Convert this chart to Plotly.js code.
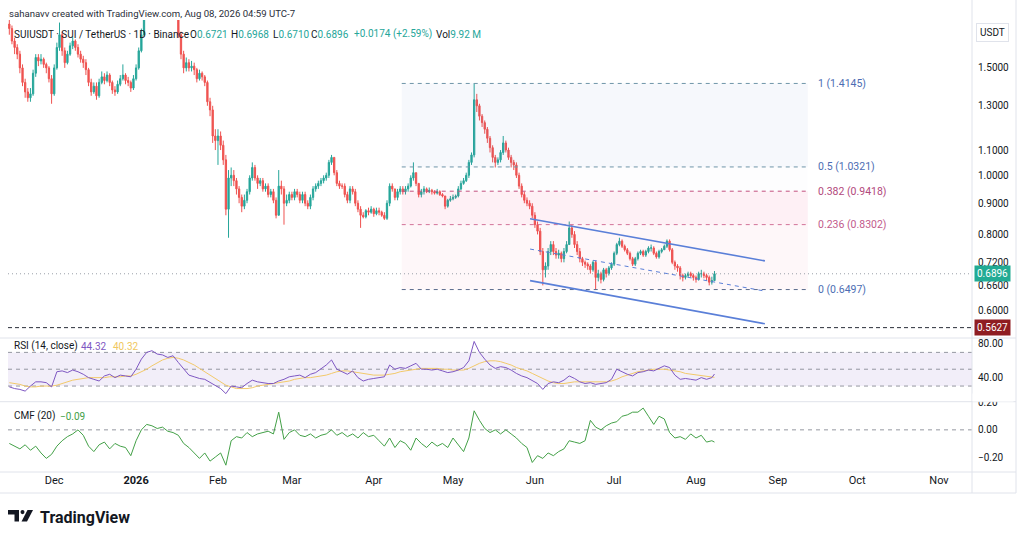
<!DOCTYPE html>
<html><head><meta charset="utf-8">
<script src="https://cdn.plot.ly/plotly-3.0.1.min.js"></script>
<style>html,body{margin:0;padding:0;background:#fff;}#chart{width:1024px;height:539px;}</style>
</head><body><div id="chart"></div>
<script>
// ---------- data ----------
const startDate = Date.UTC(2025, 10, 14);
const firstOpen = 1.77;
const closes = [
1.74,1.66,1.62,1.58,1.50,1.42,1.37,1.34,1.36,1.47,
1.56,1.54,1.55,1.52,1.50,1.44,1.36,1.50,1.62,1.70,
1.60,1.53,1.58,1.63,1.66,1.62,1.58,1.55,1.53,1.49,
1.42,1.37,1.40,1.35,1.42,1.45,1.43,1.46,1.42,1.38,
1.37,1.41,1.44,1.46,1.43,1.42,1.39,1.44,1.50,1.60,
1.70,1.82,1.90,1.88,1.92,1.89,1.93,1.90,1.94,1.91,
1.90,1.93,1.88,1.86,1.70,1.58,1.50,1.53,1.50,1.51,
1.49,1.44,1.47,1.45,1.42,1.32,1.28,1.16,1.14,1.16,
1.12,1.06,0.88,0.99,1.00,0.98,0.95,0.92,0.89,0.91,
0.94,0.99,1.03,0.99,0.97,0.98,0.95,0.96,0.93,0.94,
0.91,0.86,0.96,0.95,0.90,0.91,0.93,0.92,0.94,0.93,
0.91,0.93,0.90,0.89,0.92,0.95,0.96,0.97,0.98,0.99,
1.00,1.05,1.07,1.01,0.97,0.96,0.96,0.93,0.91,0.95,
0.94,0.90,0.88,0.86,0.855,0.875,0.87,0.88,0.865,0.875,
0.87,0.86,0.85,0.90,0.96,0.95,0.92,0.94,0.95,0.94,
0.95,0.96,0.99,1.01,0.97,0.93,0.94,0.95,0.94,0.945,
0.94,0.935,0.94,0.93,0.925,0.89,0.91,0.915,0.92,0.925,
0.95,0.97,0.98,1.00,1.05,1.08,1.33,1.30,1.25,1.22,
1.19,1.15,1.11,1.07,1.05,1.06,1.09,1.13,1.10,1.07,
1.05,1.04,1.00,0.96,0.93,0.91,0.90,0.89,0.86,0.83,
0.81,0.75,0.70,0.71,0.75,0.77,0.75,0.74,0.745,0.73,
0.75,0.77,0.82,0.80,0.77,0.75,0.73,0.72,0.715,0.71,
0.70,0.72,0.68,0.69,0.675,0.70,0.69,0.705,0.715,0.745,
0.77,0.78,0.765,0.755,0.745,0.73,0.715,0.73,0.745,0.75,
0.74,0.75,0.76,0.76,0.745,0.735,0.75,0.755,0.765,0.78,
0.755,0.72,0.71,0.705,0.685,0.68,0.685,0.69,0.685,0.68,
0.675,0.69,0.69,0.685,0.68,0.668,0.6721,0.6896
];
const highs = [
1.80,1.76,1.68,1.64,1.60,1.52,1.44,1.39,1.39,1.49,
1.58,1.58,1.58,1.56,1.53,1.51,1.46,1.52,1.65,1.78,
1.72,1.62,1.60,1.65,1.69,1.67,1.64,1.60,1.57,1.55,
1.50,1.44,1.42,1.42,1.44,1.48,1.47,1.48,1.47,1.43,
1.40,1.43,1.46,1.52,1.47,1.45,1.43,1.46,1.52,1.62,
1.74,1.85,1.94,1.93,1.95,1.94,1.96,1.95,1.97,1.96,
1.94,1.96,1.95,1.90,1.88,1.72,1.60,1.56,1.55,1.54,
1.53,1.50,1.49,1.48,1.46,1.43,1.34,1.30,1.19,1.19,
1.18,1.14,1.08,1.02,1.03,1.02,0.99,0.96,0.93,0.93,
0.95,1.00,1.05,1.04,1.00,0.99,0.99,0.97,0.97,0.95,
0.95,0.92,1.02,0.98,0.96,0.93,0.94,0.94,0.95,0.95,
0.94,0.94,0.94,0.91,0.93,0.96,0.97,0.98,0.99,1.00,
1.01,1.06,1.08,1.07,1.02,0.98,0.97,0.97,0.94,0.96,
0.96,0.95,0.91,0.89,0.87,0.88,0.885,0.89,0.885,0.885,
0.885,0.875,0.87,0.91,0.97,0.97,0.95,0.95,0.96,0.96,
0.96,0.97,1.00,1.05,1.01,0.97,0.95,0.96,0.955,0.955,
0.95,0.945,0.95,0.945,0.935,0.925,0.915,0.925,0.93,0.93,
0.96,0.98,0.99,1.01,1.06,1.09,1.4145,1.36,1.31,1.26,
1.23,1.20,1.16,1.12,1.08,1.07,1.10,1.16,1.14,1.11,
1.08,1.06,1.05,1.01,0.97,0.94,0.92,0.91,0.90,0.87,
0.84,0.82,0.76,0.72,0.76,0.78,0.78,0.76,0.755,0.75,
0.76,0.78,0.84,0.83,0.81,0.78,0.76,0.735,0.725,0.72,
0.715,0.725,0.725,0.70,0.695,0.705,0.705,0.71,0.72,0.75,
0.775,0.79,0.785,0.77,0.76,0.75,0.735,0.735,0.75,0.755,
0.755,0.755,0.765,0.77,0.765,0.75,0.755,0.76,0.77,0.785,
0.785,0.76,0.725,0.715,0.71,0.69,0.69,0.695,0.695,0.69,
0.685,0.695,0.70,0.695,0.69,0.685,0.682,0.6968
];
const lows = [
1.70,1.64,1.58,1.55,1.47,1.40,1.34,1.32,1.32,1.35,
1.45,1.51,1.52,1.50,1.47,1.42,1.31,1.35,1.49,1.60,
1.57,1.50,1.52,1.57,1.61,1.60,1.56,1.53,1.50,1.46,
1.40,1.35,1.36,1.33,1.34,1.41,1.41,1.42,1.40,1.36,
1.35,1.36,1.40,1.43,1.41,1.40,1.37,1.38,1.43,1.49,
1.59,1.69,1.80,1.84,1.86,1.86,1.87,1.88,1.88,1.88,
1.87,1.88,1.86,1.83,1.68,1.55,1.47,1.48,1.48,1.48,
1.46,1.42,1.43,1.43,1.40,1.30,1.25,1.13,1.10,1.04,
1.10,1.04,0.86,0.79,0.96,0.96,0.93,0.90,0.87,0.88,
0.90,0.93,0.98,0.98,0.95,0.96,0.94,0.94,0.92,0.92,
0.90,0.85,0.86,0.93,0.83,0.89,0.90,0.91,0.91,0.92,
0.90,0.90,0.89,0.88,0.88,0.91,0.94,0.95,0.96,0.97,
0.98,0.99,1.04,1.00,0.96,0.95,0.95,0.92,0.90,0.90,
0.93,0.89,0.87,0.82,0.85,0.85,0.86,0.865,0.855,0.86,
0.86,0.855,0.845,0.845,0.89,0.94,0.91,0.91,0.93,0.93,
0.93,0.94,0.955,0.98,0.96,0.92,0.92,0.93,0.935,0.935,
0.93,0.93,0.93,0.925,0.92,0.88,0.885,0.905,0.91,0.915,
0.92,0.945,0.965,0.975,0.99,1.04,1.07,1.27,1.23,1.20,
1.17,1.13,1.09,1.05,1.03,1.04,1.05,1.08,1.09,1.06,
1.03,1.02,0.99,0.95,0.92,0.90,0.89,0.88,0.85,0.82,
0.80,0.74,0.66,0.68,0.70,0.74,0.74,0.73,0.73,0.72,
0.72,0.745,0.77,0.79,0.76,0.74,0.72,0.71,0.705,0.70,
0.69,0.695,0.65,0.67,0.665,0.67,0.68,0.685,0.70,0.71,
0.74,0.765,0.76,0.75,0.74,0.725,0.71,0.71,0.725,0.74,
0.735,0.735,0.745,0.75,0.74,0.73,0.73,0.745,0.755,0.76,
0.75,0.715,0.70,0.695,0.675,0.67,0.675,0.68,0.68,0.672,
0.667,0.672,0.68,0.678,0.672,0.66,0.662,0.6710
];
// indicators, sampled every second day plus the last bar
const rsi = [
29,27,26,24,30,35,35,34,29,47,
48,46,49,47,44,40,38,36,42,44,
40,43,42,41,50,62,70,72,68,67,
64,66,58,50,43,41,39,38,34,30,
27,21,30,29,28,33,37,35,34,33,
33,36,38,41,42,43,40,44,46,50,
55,61,50,47,44,48,40,36,38,39,
40,41,55,50,52,51,54,57,50,50,
49,50,48,46,47,49,52,60,83,70,
62,55,51,53,52,49,45,42,40,37,
33,26,33,35,34,37,42,39,35,33,
34,32,33,34,38,50,47,44,42,46,
47,49,48,51,54,52,43,38,39,38,
37,40,38,40,44.32
];
const rsiMa = [
34,33,32,30,29,29,30,30,30,31,
33,35,37,38,39,40,40,40,40,41,
41,41,42,42,44,47,50,54,58,61,
63,64,63,61,58,55,51,47,42,38,
34,31,29,27,27,27,28,30,31,32,
33,34,35,36,38,39,40,40,41,42,
43,45,47,48,48,47,46,45,44,43,
43,43,44,45,47,48,49,50,51,51,
51,51,50,50,49,49,49,51,54,57,
59,60,60,59,57,55,52,50,48,45,
42,39,36,34,33,33,34,35,35,35,
35,35,35,35,36,38,41,43,45,47,
48,49,50,50,50,49,48,47,45,44,
43,42,41,40.5,40.32
];
const cmf = [
-0.10,-0.12,-0.14,-0.11,-0.15,-0.12,-0.17,-0.21,-0.18,-0.12,
-0.08,-0.05,-0.03,0.00,-0.04,-0.12,-0.16,-0.11,-0.09,-0.14,
-0.10,-0.12,-0.13,-0.19,-0.08,0.00,0.04,0.03,0.01,0.02,
-0.01,-0.02,-0.04,-0.10,-0.13,-0.17,-0.21,-0.17,-0.23,-0.20,
-0.17,-0.26,-0.08,-0.05,-0.06,-0.02,-0.05,-0.03,-0.02,-0.01,
-0.03,0.13,-0.07,-0.02,0.00,-0.04,-0.05,-0.03,-0.06,-0.04,
-0.03,0.00,-0.04,-0.02,-0.05,-0.03,-0.06,-0.02,-0.05,-0.04,
-0.08,-0.12,-0.06,-0.13,-0.08,-0.10,-0.15,-0.06,-0.10,-0.13,
-0.09,-0.12,-0.10,-0.13,-0.06,-0.11,-0.16,-0.06,0.14,0.07,
0.01,-0.02,0.00,-0.03,0.00,-0.03,-0.06,-0.10,-0.13,-0.24,
-0.19,-0.21,-0.17,-0.19,-0.16,-0.14,-0.08,-0.09,-0.10,-0.08,
0.07,0.02,0.00,0.03,0.05,0.06,0.10,0.11,0.13,0.13,
0.16,0.10,0.04,0.10,0.08,-0.02,-0.06,-0.05,-0.07,-0.03,
-0.06,-0.04,-0.09,-0.08,-0.09
];
const fibLevels = ['1', '0.5', '0.382', '0.236', '0'];
const fibPrices = [1.4145, 1.0321, 0.9418, 0.8302, 0.6497];
const fibDates = ['2026-04-11 14:00', '2026-09-12 08:00'];
const channelDates = ['2026-05-30 04:00', '2026-08-27 02:00'];
const channelUpper = [0.849, 0.724];
const channelMid = [0.757, 0.646];
const channelLower = [0.672, 0.571];
const lastPrice = 0.6896;
const markPrice = 0.5627;
const priceTicks = [0.6, 0.66, 0.72, 0.8, 0.9, 1.0, 1.1, 1.3, 1.5];
const rsiTicks = [40, 80];
const rsiBands = [70, 50, 30];
const cmfTicks = [-0.2, 0, 0.2];
const monthTicks = ['2025-12-01','2026-01-01','2026-02-01','2026-03-01','2026-04-01','2026-05-01','2026-06-01','2026-07-01','2026-08-01','2026-09-01','2026-10-01','2026-11-01'];
const monthLabels = ['Dec','<b>2026</b>','Feb','Mar','Apr','May','Jun','Jul','Aug','Sep','Oct','Nov'];
const xRange = ['2025-11-13 12:00', '2026-11-13 12:00'];

// ---------- build ----------
const dayStr = i => new Date(startDate + i * 86400000).toISOString().slice(0, 10);
const dates = closes.map((_, i) => dayStr(i));
const opens = closes.map((c, i) => i === 0 ? firstOpen : closes[i - 1]);
const hi = highs.map((h, i) => Math.max(h, opens[i], closes[i]));
const lo = lows.map((l, i) => Math.min(l, opens[i], closes[i]));
const indIdx = [];
for (let i = 0; i < closes.length - 1; i += 2) indIdx.push(i);
indIdx.push(closes.length - 1);
const indDates = indIdx.map(dayStr);

const FONT = 'Roboto, "Liberation Sans", sans-serif';
const TXT = '#131722';
const UP = '#26a69a', DOWN = '#ef5350';
const fibLine = ['#6f95a8', '#6f95a8', '#c2507e', '#d27399', '#5b6b8c'];
const fibText = ['#4d6db3', '#4d6db3', '#b2487c', '#c25b8c', '#4d6db3'];
const fibFill = ['rgba(90,125,205,0.055)', 'rgba(150,150,210,0.025)', 'rgba(233,30,99,0.065)', 'rgba(233,30,99,0.035)'];

const traces = [];
const skip = {hoverinfo: 'skip', showlegend: false};
for (let k = 0; k < fibPrices.length - 1; k++) {
  traces.push(Object.assign({type: 'scatter', mode: 'lines', xaxis: 'x', yaxis: 'y',
    x: [fibDates[0], fibDates[1], fibDates[1], fibDates[0], fibDates[0]],
    y: [fibPrices[k], fibPrices[k], fibPrices[k + 1], fibPrices[k + 1], fibPrices[k]],
    fill: 'toself', fillcolor: fibFill[k], line: {width: 0}}, skip));
}
fibPrices.forEach((p, k) => traces.push(Object.assign({type: 'scatter', mode: 'lines', xaxis: 'x', yaxis: 'y',
  x: fibDates, y: [p, p], line: {color: fibLine[k], width: 1, dash: '4px,4px'}}, skip)));
traces.push(Object.assign({type: 'scatter', mode: 'lines', x: xRange, y: [lastPrice, lastPrice],
  line: {color: '#9aa0aa', width: 1, dash: '1px,3px'}}, skip));
traces.push(Object.assign({type: 'scatter', mode: 'lines', x: xRange, y: [markPrice, markPrice],
  line: {color: '#2a2e39', width: 1, dash: '4px,3px'}}, skip));
traces.push({type: 'candlestick', xaxis: 'x', yaxis: 'y', x: dates, open: opens, high: hi, low: lo, close: closes,
  increasing: {line: {color: UP, width: 1}, fillcolor: UP},
  decreasing: {line: {color: DOWN, width: 1}, fillcolor: DOWN},
  whiskerwidth: 0, hoverinfo: 'skip', showlegend: false});
traces.push(Object.assign({type: 'scatter', mode: 'lines', x: channelDates, y: channelMid,
  line: {color: '#5a7fd8', width: 1, dash: '4px,4px'}}, skip));
traces.push(Object.assign({type: 'scatter', mode: 'lines', x: channelDates, y: channelUpper,
  line: {color: '#5a7fd8', width: 1.6}}, skip));
traces.push(Object.assign({type: 'scatter', mode: 'lines', x: channelDates, y: channelLower,
  line: {color: '#5a7fd8', width: 1.6}}, skip));
traces.push(Object.assign({type: 'scatter', mode: 'lines', yaxis: 'y2', x: xRange, y: [rsiBands[2], rsiBands[2]],
  line: {width: 0}}, skip));
traces.push(Object.assign({type: 'scatter', mode: 'lines', yaxis: 'y2', x: xRange, y: [rsiBands[0], rsiBands[0]],
  line: {width: 0}, fill: 'tonexty', fillcolor: 'rgba(126,87,194,0.10)'}, skip));
rsiBands.forEach(b => traces.push(Object.assign({type: 'scatter', mode: 'lines', yaxis: 'y2', x: xRange, y: [b, b],
  line: {color: '#9598a1', width: 1, dash: '4px,4px'}}, skip)));
traces.push(Object.assign({type: 'scatter', mode: 'lines', yaxis: 'y2', x: indDates, y: rsiMa,
  line: {color: '#f2c96a', width: 1}}, skip));
traces.push(Object.assign({type: 'scatter', mode: 'lines', yaxis: 'y2', x: indDates, y: rsi,
  line: {color: '#7e57c2', width: 1}}, skip));
traces.push(Object.assign({type: 'scatter', mode: 'lines', yaxis: 'y3', x: xRange, y: [0, 0],
  line: {color: '#9598a1', width: 1, dash: '4px,4px'}}, skip));
traces.push(Object.assign({type: 'scatter', mode: 'lines', yaxis: 'y3', x: indDates, y: cmf,
  line: {color: '#43a047', width: 1}}, skip));

// pixel helpers for page furniture
const L = 8, R = 972, T = 20, B = 472;
const PX = x => (x - L) / (R - L);
const PY = y => (B - y) / (B - T);

const ann = [];
const txt = (x, y, text, opts) => ann.push(Object.assign({xref: 'paper', yref: 'paper', x: PX(x), y: PY(y), text: text,
  showarrow: false, xanchor: 'left', yanchor: 'middle', font: {family: FONT, size: 10, color: TXT}}, opts || {}));
txt(7, 13, 'sahanavv created with TradingView.com, Aug 08, 2026 04:59 UTC-7', {font: {family: FONT, size: 9.6, color: '#2a2e39'}});
txt(12, 34, 'SUIUSDT · SUI / TetherUS · 1D · Binance');
const tv = v => '<span style="color:' + UP + '">' + v + '</span>';
txt(188, 34, 'O' + tv('0.6721'));
txt(229, 34, 'H' + tv('0.6968'));
txt(271, 34, 'L' + tv('0.6710'));
txt(309, 34, 'C' + tv('0.6896'));
txt(352, 34, tv('+0.0174 (+2.59%)'));
txt(434, 34, 'Vol' + tv('9.92 M'));
txt(12, 346, 'RSI (14, close)');
txt(79, 346, '44.32', {font: {family: FONT, size: 10, color: '#7e57c2'}});
txt(111, 346, '40.32', {font: {family: FONT, size: 10, color: '#f0c75e'}});
txt(12, 416, 'CMF (20)');
txt(58, 416, '−0.09', {font: {family: FONT, size: 10, color: '#43a047'}});
txt(38, 517, '<b>TradingView</b>', {font: {family: FONT, size: 16, color: '#131722'}});
fibPrices.forEach((p, k) => ann.push({xref: 'paper', yref: 'y', x: PX(816), y: Math.log10(p),
  text: fibLevels[k] + ' (' + p.toFixed(4) + ')', showarrow: false, xanchor: 'left', yanchor: 'middle',
  font: {family: FONT, size: 10.5, color: fibText[k]}}));
// mask the top half of the clipped 0.20 CMF label, as in the pane-clipped reference
ann.push({xref: 'paper', yref: 'paper', x: PX(993), y: PY(397.6), text: '&nbsp;', showarrow: false, xanchor: 'center', yanchor: 'middle',
  width: 40, height: 7, bgcolor: '#fff', borderpad: 0, font: {size: 4}});
ann.push({xref: 'paper', yref: 'paper', x: PX(993), y: PY(33), text: 'USDT', showarrow: false, xanchor: 'center', yanchor: 'middle',
  font: {family: FONT, size: 10, color: TXT}, bgcolor: '#fff', bordercolor: '#e0e3eb', borderwidth: 1, borderpad: 3});
ann.push({xref: 'paper', yref: 'y', x: PX(993), y: Math.log10(lastPrice), text: lastPrice.toFixed(4), showarrow: false,
  xanchor: 'center', yanchor: 'middle', font: {family: FONT, size: 10, color: '#fff'}, bgcolor: '#22ab94', borderpad: 2});
ann.push({xref: 'paper', yref: 'y', x: PX(993), y: Math.log10(markPrice), text: markPrice.toFixed(4), showarrow: false,
  xanchor: 'center', yanchor: 'middle', font: {family: FONT, size: 10, color: '#fff'}, bgcolor: '#8f1d22', borderpad: 2});

const SEP = '#e0e3eb';
const shapes = [];
const hline = (y, x0, x1) => shapes.push({type: 'line', xref: 'paper', yref: 'paper', x0: PX(x0), x1: PX(x1), y0: PY(y), y1: PY(y), line: {color: SEP, width: 1}});
const vline = (x, y0, y1) => shapes.push({type: 'line', xref: 'paper', yref: 'paper', x0: PX(x), x1: PX(x), y0: PY(y0), y1: PY(y1), line: {color: SEP, width: 1}});
hline(338, 0, 1016); hline(401.7, 0, 1016); hline(472, 0, 1016); hline(493, 0, 1016);
vline(972, 0, 493); vline(1016, 0, 493);
const rect = (x0, y0, x1, y1) => shapes.push({type: 'rect', xref: 'paper', yref: 'paper', x0: PX(x0), x1: PX(x1), y0: PY(y0), y1: PY(y1), fillcolor: '#131722', line: {width: 0}});
rect(8, 510, 19, 514.5); rect(14.5, 510, 19, 521.5);
shapes.push({type: 'circle', xref: 'paper', yref: 'paper', x0: PX(20.5), x1: PX(24.5), y0: PY(510), y1: PY(514.2), fillcolor: '#131722', line: {width: 0}});
shapes.push({type: 'path', xref: 'paper', yref: 'paper', fillcolor: '#131722', line: {width: 0},
  path: 'M ' + PX(27.5) + ' ' + PY(510) + ' L ' + PX(33) + ' ' + PY(510) + ' L ' + PX(27) + ' ' + PY(521.5) + ' L ' + PX(21.5) + ' ' + PY(521.5) + ' Z'});

const yBase = {side: 'right', anchor: 'x', showgrid: false, zeroline: false, ticks: '', showline: false, fixedrange: true,
  tickfont: {family: FONT, size: 10, color: TXT}, ticklabelstandoff: 5};
const layout = {
  width: 1024, height: 539, paper_bgcolor: '#fff', plot_bgcolor: '#fff',
  margin: {l: L, r: 1024 - R, t: T, b: 539 - B, pad: 0},
  showlegend: false, hovermode: false, dragmode: false,
  font: {family: FONT, color: TXT},
  xaxis: {type: 'date', anchor: 'y3', range: xRange, tickvals: monthTicks, ticktext: monthLabels, showgrid: false,
    zeroline: false, ticks: '', showline: false, fixedrange: true, rangeslider: {visible: false},
    tickfont: {family: FONT, size: 11, color: TXT}},
  yaxis: Object.assign({}, yBase, {domain: [PY(338), 1], type: 'log', range: [-0.2667, 0.2546],
    tickvals: priceTicks, ticktext: priceTicks.map(v => v.toFixed(4))}),
  yaxis2: Object.assign({}, yBase, {domain: [PY(401.7), PY(338)], range: [11.4, 87.1],
    tickvals: rsiTicks, ticktext: rsiTicks.map(v => v.toFixed(2))}),
  yaxis3: Object.assign({}, yBase, {domain: [0, PY(401.7)], range: [-0.31, 0.207],
    tickvals: cmfTicks, ticktext: cmfTicks.map(v => (v < 0 ? '−' : '') + Math.abs(v).toFixed(2))}),
  annotations: ann, shapes: shapes
};
Plotly.newPlot('chart', traces, layout, {displayModeBar: false, staticPlot: true});
</script></body></html>
